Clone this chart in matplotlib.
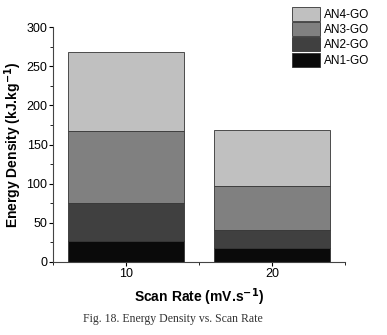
import matplotlib.pyplot as plt
from matplotlib.ticker import MultipleLocator

# scan rates (categories) and energy density of each layer
scan_rates = ['10', '20']
an1 = [27, 18]
an2 = [48, 23]
an3 = [92, 56]
an4 = [101, 71]
labels = ['AN1-GO', 'AN2-GO', 'AN3-GO', 'AN4-GO']
colors = ['#0a0a0a', '#404040', '#808080', '#c0c0c0']

plt.rcParams['font.family'] = ['Liberation Sans', 'DejaVu Sans']

fig = plt.figure(figsize=(3.87, 3.35), dpi=100)
ax = fig.add_axes([0.137, 0.218, 0.754, 0.701])

x = [1, 2]
bottom = [0, 0]
handles = []
for vals, lab, col in zip([an1, an2, an3, an4], labels, colors):
    b = ax.bar(x, vals, width=0.8, bottom=bottom, color=col,
               edgecolor='#333333', linewidth=0.6, label=lab)
    handles.append(b)
    bottom = [bo + v for bo, v in zip(bottom, vals)]

ax.set_xlim(0.5, 2.5)
ax.set_ylim(0, 300)
ax.set_xticks(x)
ax.set_xticklabels(scan_rates)
ax.xaxis.set_minor_locator(MultipleLocator(0.5))
ax.yaxis.set_major_locator(MultipleLocator(50))
ax.yaxis.set_minor_locator(MultipleLocator(25))
ax.tick_params(which='major', direction='out', length=3, width=0.8, labelsize=9, pad=1)
ax.tick_params(which='minor', direction='out', length=2, width=0.6)
for s in ['top', 'right']:
    ax.spines[s].set_visible(False)
for s in ['left', 'bottom']:
    ax.spines[s].set_color('#444444')

ax.set_ylabel('Energy Density (kJ.kg$^{\\mathbf{-1}}$)', fontsize=10, fontweight='bold', labelpad=2)
ax.set_xlabel('Scan Rate (mV.s$^{\\mathbf{-1}}$)', fontsize=10, fontweight='bold', labelpad=5)

fig.legend(handles[::-1], labels[::-1], loc='upper right',
           bbox_to_anchor=(0.975, 1.005), frameon=False, fontsize=8.5,
           handlelength=2.4, handleheight=1.45, labelspacing=0.12,
           handletextpad=0.3, borderpad=0.2)

fig.text(0.447, 0.038, 'Fig. 18. Energy Density vs. Scan Rate',
         family='Liberation Serif', fontsize=8.5, ha='center', color='#333333')

fig.savefig('out.png', dpi=100)
